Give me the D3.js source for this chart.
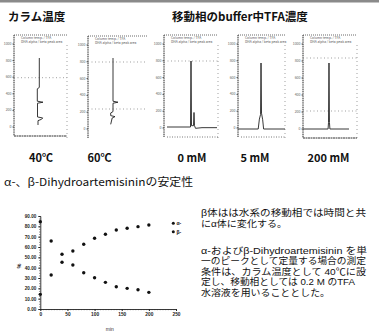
<!DOCTYPE html>
<html><head><meta charset="utf-8">
<script src="https://cdn.jsdelivr.net/npm/d3@7"></script>
<style>
html,body{margin:0;padding:0;background:#fff;}
svg{display:block;font-family:"Noto Sans CJK JP","Noto Sans",sans-serif;}
</style></head><body>
<svg id="c" width="379" height="336"></svg>
<script>
// ---------------- data ----------------
const sampleMinutes = [0,20,40,60,80,100,120,140,160,180,200];
const alphaPct = [14.2,32.9,53.0,56.1,62.6,68.4,72.3,76.5,78.1,79.7,81.3];
const betaPct  = [84.5,65.8,45.2,42.6,35.1,30.3,25.8,21.6,20.0,18.7,16.1];
const seriesNames = ["α-","β-"];
const yTickValues = [0,10,20,30,40,50,60,70,80,90];
const xTickValues = [0,50,100,150,200,250];

const groupTitles = ["カラム温度","移動相のbuffer中TFA濃度"];
const panelLabels = ["40℃","60℃","0 mM","5 mM","200 mM"];
const chromTickLabels = ["1000","800","600","400","200","0"];
const chromHeader = ["Column temp. / TFA", "DHA alpha / beta peak area"];
// chromatogram traces: [time (min), signal]
const trace40C  = [[0,2.3],[8.8,2.3],[9.2,0.3],[12.9,0.3],[13.2,6],[13.5,0.5],[17.6,0.5],[17.9,5.7],[18.3,4.5],[18.7,1],[20,1]];
const trace60C  = [[0,2.3],[12.9,2.3],[13.2,7.3],[13.5,2.3],[16,2.3],[16.4,0],[17.2,0],[17.5,4.3],[17.9,1.5],[19.8,0]];
const trace0mM  = [[0,0],[9.4,0],[9.6,100],[9.8,2],[10.6,2],[10.8,22],[11,2],[11.4,-2],[14,-1],[20,-1]];
const trace5mM  = [[0,0],[8.6,0],[9.1,15],[9.6,22],[9.8,100],[10.0,24],[10.5,14],[10.9,0],[20,0]];
const trace200mM= [[0,0],[10.9,0],[11.1,10],[11.3,100],[11.5,10],[11.7,0],[20,0]];

const subtitle = "α-、β-Dihydroartemisininの安定性";
const noteLines = [
  "β体はは水系の移動相では時間と共",
  "にα体に変化する。",
  "α-およびβ-Dihydroartemisinin を単",
  "一のピークとして定量する場合の測定",
  "条件は、カラム温度として 40℃に設",
  "定し、移動相としては 0.2 M のTFA",
  "水溶液を用いることとした。"
];

// ---------------- drawing ----------------
const svg = d3.select("#c");
svg.append("rect").attr("width",379).attr("height",336).attr("fill","#fff");
svg.append("rect").attr("x",0).attr("y",0).attr("width",379).attr("height",2.5).attr("fill","#8a8a8a");

// group titles
svg.append("text").attr("x",8).attr("y",21).attr("font-size",11.5).attr("font-weight","bold")
  .attr("fill","#111").text(groupTitles[0]);
svg.append("text").attr("x",172).attr("y",21).attr("font-size",11.5).attr("font-weight","bold")
  .attr("fill","#111").text(groupTitles[1]);

// chromatogram panels
const panels = [
 {label:panelLabels[0], trace:trace40C, rotated:true, box:[14,35,67,136], tRange:[58,125], sDomain:[0,10], sRange:[37,47], cx:41, hLines:[77.7], bottom:"solid", right:true},
 {label:panelLabels[1], trace:trace60C, rotated:true, box:[88,36,147,138], tRange:[58,125], sDomain:[0,10], sRange:[110.7,120.7], cx:99.5, hLines:[62,109], bottom:null, right:false},
 {label:panelLabels[2], trace:trace0mM, rotated:false, box:[164,35,218,137], tRange:[167,217], sDomain:[0,100], sRange:[127,61], cx:192, hLines:[61], bottom:"dot", right:true},
 {label:panelLabels[3], trace:trace5mM, rotated:false, box:[238,35,285,137], tRange:[238,285], sDomain:[0,100], sRange:[129,63], cx:255, hLines:[], bottom:"dot", right:true},
 {label:panelLabels[4], trace:trace200mM, rotated:false, box:[303,35,357,138], tRange:[303,349], sDomain:[0,100], sRange:[129,63], cx:328.5, hLines:[58,111], bottom:"solid", right:true}
];

function seg(g,x1,y1,x2,y2,opt){
  g.append("line").attr("x1",x1).attr("y1",y1).attr("x2",x2).attr("y2",y2)
   .attr("stroke",opt.c||"#555").attr("stroke-width",opt.w||0.8)
   .attr("stroke-dasharray",opt.d||null);
}

panels.forEach(p=>{
  const g = svg.append("g");
  const [x0,y0,x1,y1] = p.box;
  seg(g,x0,y0,x0,y1,{c:"#222",w:1,d:"1.2,0.6"});
  const tk = d3.scaleLinear().domain([0,chromTickLabels.length-1]).range([y0+9,y1-9]);
  chromTickLabels.forEach((t,i)=>{
    seg(g,x0-1.5,tk(i),x0,tk(i),{c:"#333",w:0.8});
    g.append("text").attr("x",x0-2.5).attr("y",tk(i)+1).attr("text-anchor","end")
     .attr("font-size",3.5).attr("fill","#666").text(t);
  });
  seg(g,x0,y0,x1,y0,{c:"#444",w:0.8,d:"1,1"});
  chromHeader.forEach((h,i)=>{
    g.append("text").attr("x",x0+7).attr("y",y0+4+i*3.8).attr("font-size",3.3)
     .attr("fill","#555").text(h);
  });
  p.hLines.forEach(y=>seg(g,x0,y,x1,y,{c:"#777",w:0.7,d:"1,2.5"}));
  if(p.right) seg(g,x1,y0+10,x1,y1+3,{c:"#777",w:0.7,d:"1,3"});
  if(p.bottom==="solid") seg(g,x0,y1,x1,y1,{c:"#333",w:1,d:"2,0.5"});
  if(p.bottom==="dot") seg(g,x0+3,y1,x1,y1,{c:"#555",w:0.8,d:"1,1.5"});
  const t = d3.scaleLinear().domain([0,20]).range(p.tRange);
  const s = d3.scaleLinear().domain(p.sDomain).range(p.sRange);
  const line = p.rotated ? d3.line().x(d=>s(d[1])).y(d=>t(d[0])) : d3.line().x(d=>t(d[0])).y(d=>s(d[1]));
  g.append("path").attr("d",line(p.trace)).attr("fill","none").attr("stroke","#222").attr("stroke-width",0.9);
  svg.append("text").attr("x",p.cx).attr("y",162).attr("text-anchor","middle")
    .attr("font-size",11).attr("font-weight","bold").attr("fill","#111").text(p.label);
});

// subtitle
svg.append("text").attr("x",4).attr("y",186).attr("font-size",11).attr("fill","#111")
  .attr("textLength",189).attr("lengthAdjust","spacingAndGlyphs").text(subtitle);

// ---------------- scatter chart ----------------
const x = d3.scaleLinear().domain([0,250]).range([40.3,176]);
const y = d3.scaleLinear().domain([0,90]).range([309,216]);
const ch = svg.append("g");

const minorY = d3.range(0,91,2.5);
ch.append("g").attr("transform",`translate(${x(0)},0)`)
  .call(d3.axisLeft(y).tickValues(minorY).tickSize(1.2).tickFormat(""))
  .call(g=>{g.select(".domain").attr("stroke","#222").attr("stroke-width",0.9);g.selectAll("line").attr("stroke","#333").attr("stroke-width",0.6);});
ch.append("g").attr("transform",`translate(${x(0)},0)`)
  .call(d3.axisLeft(y).tickValues(yTickValues).tickSize(2).tickPadding(2).tickFormat(d3.format(".2f")))
  .call(g=>{g.select(".domain").remove();g.selectAll("line").attr("stroke","#222");
    g.selectAll("text").attr("font-size",4.6).attr("fill","#222").attr("font-family","Liberation Sans, Arial, sans-serif").attr("font-weight","bold");});

const minorX = d3.range(0,251,5);
ch.append("g").attr("transform",`translate(0,${y(0)})`)
  .call(d3.axisBottom(x).tickValues(minorX).tickSize(1.2).tickFormat(""))
  .call(g=>{g.select(".domain").attr("stroke","#222").attr("stroke-width",0.9);g.selectAll("line").attr("stroke","#333").attr("stroke-width",0.6);});
ch.append("g").attr("transform",`translate(0,${y(0)})`)
  .call(d3.axisBottom(x).tickValues(xTickValues).tickSize(2).tickPadding(2))
  .call(g=>{g.select(".domain").remove();g.selectAll("line").attr("stroke","#222");
    g.selectAll("text").attr("font-size",4.8).attr("fill","#222").attr("font-family","Liberation Sans, Arial, sans-serif").attr("font-weight","bold");});

ch.append("text").attr("x",x(128)).attr("y",331).attr("text-anchor","middle")
  .attr("font-size",5).attr("fill","#333").attr("font-family","Liberation Sans, Arial, sans-serif").text("min");
ch.append("text").attr("transform",`translate(21,266) rotate(-90)`).attr("text-anchor","middle")
  .attr("font-size",5.5).attr("fill","#222").attr("font-weight","bold").attr("font-family","Liberation Sans, Arial, sans-serif").text("%");

const series = [alphaPct, betaPct];
series.forEach((vals,si)=>{
  ch.append("g").selectAll("circle").data(vals).join("circle")
    .attr("cx",(d,i)=>x(sampleMinutes[i])).attr("cy",d=>y(d)).attr("r",1.7).attr("fill","#111");
});
seriesNames.forEach((n,i)=>{
  const ly = 223.3 + i*8.4;
  ch.append("circle").attr("cx",173.3).attr("cy",ly).attr("r",1.5).attr("fill","#111");
  ch.append("text").attr("x",176.5).attr("y",ly+1.8).attr("font-size",5).attr("fill","#111")
    .attr("font-weight","bold").attr("font-family","Liberation Sans, Arial, sans-serif").text(n);
});

// ---------------- note text ----------------
const noteY = [216.3,226.8,253.5,264,274.5,285,295.5];
const noteW = [165,86,166,165,165,154,129];
noteLines.forEach((l,i)=>{
  svg.append("text").attr("x",201).attr("y",noteY[i]).attr("font-size",9.1)
    .attr("font-family","Liberation Sans, 'Noto Sans CJK JP', sans-serif")
    .attr("fill","#111").attr("textLength",noteW[i]).attr("lengthAdjust","spacingAndGlyphs").text(l);
});
</script>
</body></html>
